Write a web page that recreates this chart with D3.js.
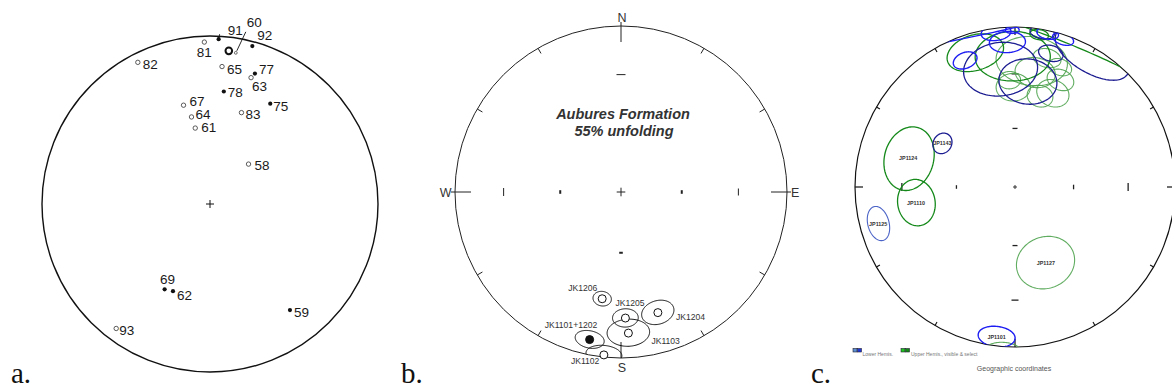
<!DOCTYPE html>
<html><head><meta charset="utf-8">
<script src="https://cdn.jsdelivr.net/npm/d3@7"></script>
<style>
html,body{margin:0;padding:0;background:#fff;}
svg{display:block;}
</style></head><body>
<svg id="fig" width="1172" height="391"></svg>
<script>
// ---------- Panel a: site-mean directions (declination, inclination; + = lower hemisphere)
const siteLabels = ["91","60","92","81","82","65","77","63","78","67","64","61","83","75","58","69","62","59","93"];
const siteDec    = [3, 7, 15, 358, 333, 5, 19, 18, 7, 345, 348, 349, 19, 31, 44, 208, 203, 143, 217];
const siteInc    = [2, -9, 3, -4, -6, -19, 19, -22, 33, -39, -46, -52, -42, 31, -63, 42, 43, 22, -8];

// ---------- Panel b: Aubures Formation, 55% unfolding (dec, inc, alpha95)
const jkLabels = ["JK1206","JK1205","JK1204","JK1103","JK1101+1202","JK1102"];
const jkDec    = [190, 178, 163, 177, 192, 186];
const jkInc    = [-35, -25, -25, -16, 10, -1.5];
const jkA95    = [4, 5.3, 6.8, 8.3, 5.5, 6.3];

// ---------- Panel c: site means with confidence cones, geographic coordinates
const jpLabels = ["JP1124","JP1143","JP1110","JP1125","JP1127","JP1101",
  "","","","","","","","","","","","","","","","","","","","","","","","","",""];
const jpDec = [285, 301, 261, 255, 158, 187,
  348, 357, 338.5, 353, 359, 12, 18, 15, 353, 7, 30, 10,
  22.5, 359, 343.5, 9, 184,
  7.6, 359, 15.4, 22, 20.6, 14, 10, 357, 23];
const jpInc = [-31.5, 46, -37.4, 12.5, -47.4, 6.2,
  -24, 10, 16, 3, 2, 2, 3, 14.5, 26, 33.6, 2, 2,
  30, -18.6, -13, -4, 3,
  -21, -37.5, -40.7, -36.8, -21, -18, -28, -33.5, -28];
const jpA95 = [14.3, 5, 10.6, 6.9, 14, 7,
  27, 7, 5, 5.5, 2.5, 4, 4, 5, 16, 13, 15, 4.5,
  35, 15.5, 11.5, 3.5, 6,
  15, 7.8, 6, 7.5, 5, 5.8, 8.8, 5, 6];
const jpGroup = ["upper","lowerDark","upper","lowerPale","upperPale","lowerBright",
  "lowerBright","lowerBright","lowerBright","lowerBright","lowerBright","lowerBright","lowerBright","lowerDark","lowerDark","lowerDark","lowerDark","lowerDark",
  "upper","upper","upper","upper","upperPale",
  "upperPale","upperPale","upperPale","upperPale","upperPale","upperPale","upperPale","upperPale","upperPale"];

const svg = d3.select("#fig");
const rad = Math.PI / 180;

// Lambert equal-area (Schmidt) projection to unit-net coordinates.
// hemi = +1 plots the lower hemisphere, -1 the upper; directions on the
// far side land outside the primitive and are clipped away.
function toUnit(v, hemi) {
  const colat = Math.acos(Math.max(-1, Math.min(1, hemi * v[2])));
  const az = Math.atan2(v[1], v[0]);
  const r = Math.SQRT2 * Math.sin(colat / 2);
  return [r * Math.sin(az), r * Math.cos(az)];
}
function dirVec(dec, inc) {
  const D = dec * rad, I = inc * rad;
  return [Math.cos(I) * Math.cos(D), Math.cos(I) * Math.sin(D), Math.sin(I)];
}
// small circle of radius a95 around a mean direction
function conePoints(dec, inc, a95, hemi, n = 120) {
  const D = dec * rad, I = inc * rad, A = a95 * rad;
  const m = dirVec(dec, inc);
  const e1 = [-Math.sin(I) * Math.cos(D), -Math.sin(I) * Math.sin(D), Math.cos(I)];
  const e2 = [-Math.sin(D), Math.cos(D), 0];
  return d3.range(n).map(k => {
    const t = 2 * Math.PI * k / n;
    const v = [0, 1, 2].map(j => Math.cos(A) * m[j] + Math.sin(A) * (Math.cos(t) * e1[j] + Math.sin(t) * e2[j]));
    return toUnit(v, hemi);
  });
}

function makeNet(cx, cy, R) {
  const x = d3.scaleLinear().domain([-1, 1]).range([cx - R, cx + R]);
  const y = d3.scaleLinear().domain([-1, 1]).range([cy + R, cy - R]);
  const proj = (dec, inc) => { const u = toUnit(dirVec(dec, Math.abs(inc)), 1); return [x(u[0]), y(u[1])]; };
  const line = d3.line().x(d => x(d[0])).y(d => y(d[1])).curve(d3.curveLinearClosed);
  return { cx, cy, R, x, y, proj, line };
}
// equal-area radius (unit net) of a given dip
const dipR = inc => Math.SQRT2 * Math.sin((90 - inc) / 2 * rad);

const font = "'Liberation Sans', Arial, sans-serif";

// ================= Panel a =================
(function () {
  const net = makeNet(210, 204, 168);
  const g = svg.append("g");
  g.append("circle").attr("cx", net.cx).attr("cy", net.cy).attr("r", net.R)
    .attr("fill", "none").attr("stroke", "#111").attr("stroke-width", 1.4);
  g.append("path").attr("d", `M${net.cx - 4},${net.cy}h8M${net.cx},${net.cy - 4}v8`)
    .attr("stroke", "#111").attr("stroke-width", 1);

  const nudge = {
    "91": [9, -9, "start"], "60": [18, -29, "start"], "92": [5, -11, "start"], "81": [0, 10, "middle"],
    "82": [5, 2, "start"], "65": [5, 3, "start"], "77": [4, -4, "start"], "63": [1, 8, "start"],
    "78": [4, 1, "start"], "67": [6, -4, "start"], "64": [4, -3, "start"], "61": [6, -1, "start"],
    "83": [4, 2, "start"], "75": [3, 2, "start"], "58": [6, 1, "start"], "69": [3, -10, "middle"],
    "62": [4, 4, "start"], "59": [4, 2, "start"], "93": [3, 2, "start"]
  };
  const sites = siteLabels.map((l, i) => ({ label: l, dec: siteDec[i], inc: siteInc[i] }));
  sites.forEach(s => {
    const [px, py] = net.proj(s.dec, s.inc);
    if (s.label === "60") {
      g.append("circle").attr("cx", px).attr("cy", py).attr("r", 3.3)
        .attr("fill", "#fff").attr("stroke", "#111").attr("stroke-width", 2);
      g.append("circle").attr("cx", px + 7).attr("cy", py + 2).attr("r", 1.4)
        .attr("fill", "#fff").attr("stroke", "#333").attr("stroke-width", 0.7);
      g.append("line").attr("x1", px + 17).attr("y1", py - 19).attr("x2", px + 8).attr("y2", py)
        .attr("stroke", "#111").attr("stroke-width", 0.9);
    } else if (s.inc >= 0) {
      g.append("circle").attr("cx", px).attr("cy", py).attr("r", 2.1).attr("fill", "#111");
      if (s.label === "91") g.append("line").attr("x1", px).attr("y1", py).attr("x2", px + 1).attr("y2", py - 5)
        .attr("stroke", "#111").attr("stroke-width", 0.9);
    } else {
      g.append("circle").attr("cx", px).attr("cy", py).attr("r", 2.2)
        .attr("fill", "#fff").attr("stroke", "#333").attr("stroke-width", 0.8);
    }
    const nd = nudge[s.label];
    g.append("text").attr("x", px + nd[0]).attr("y", py + nd[1]).attr("dy", "0.36em")
      .attr("text-anchor", nd[2]).attr("font-family", font).attr("font-size", 13.5)
      .attr("fill", "#1a1a1a").text(s.label);
  });
  svg.append("text").attr("x", 11).attr("y", 383).attr("font-family", "'Liberation Serif', 'Times New Roman', serif")
    .attr("font-size", 29).attr("fill", "#111").text("a.");
})();

// ================= Panel b =================
(function () {
  const net = makeNet(621, 192, 166);
  const g = svg.append("g");
  svg.append("clipPath").attr("id", "clipB").append("circle")
    .attr("cx", net.cx).attr("cy", net.cy).attr("r", net.R);
  g.append("circle").attr("cx", net.cx).attr("cy", net.cy).attr("r", net.R)
    .attr("fill", "none").attr("stroke", "#222").attr("stroke-width", 1);
  // 30-degree azimuth ticks on the primitive
  [30, 60, 120, 150, 210, 240, 300, 330].forEach(a => {
    const s = Math.sin(a * rad), c = Math.cos(a * rad);
    g.append("line").attr("x1", net.x(s)).attr("y1", net.y(c))
      .attr("x2", net.x(s * (1 - 6 / net.R))).attr("y2", net.y(c * (1 - 6 / net.R)))
      .attr("stroke", "#222").attr("stroke-width", 1);
  });
  // cardinal ticks
  [0, 90, 180, 270].forEach(a => {
    const s = Math.sin(a * rad), c = Math.cos(a * rad);
    const o = a === 180 ? 1 : 1 + 4 / net.R;
    g.append("line").attr("x1", net.x(s * o)).attr("y1", net.y(c * o))
      .attr("x2", net.x(s * (1 - 16 / net.R))).attr("y2", net.y(c * (1 - 16 / net.R)))
      .attr("stroke", "#222").attr("stroke-width", 1);
  });
  // dip ticks along the axes
  [[90, 30, 3.5, 1], [270, 30, 4, 1], [90, 60, 1.8, 2], [270, 60, 1.8, 2], [0, 30, 4.5, 1], [180, 60, 1.8, 2]]
    .forEach(([az, dip, h, w]) => {
      const r = dipR(dip), s = Math.sin(az * rad), c = Math.cos(az * rad);
      const px = net.x(r * s), py = net.y(r * c);
      const vert = az === 90 || az === 270;
      g.append("line").attr("x1", vert ? px : px - h).attr("x2", vert ? px : px + h)
        .attr("y1", vert ? py - h : py).attr("y2", vert ? py + h : py)
        .attr("stroke", "#222").attr("stroke-width", w);
    });
  g.append("path").attr("d", `M${net.cx - 4.3},${net.cy}h8.6M${net.cx},${net.cy - 4.3}v8.6`)
    .attr("stroke", "#222").attr("stroke-width", 1);

  const lab = (t, x, y, anchor) => g.append("text").attr("x", x).attr("y", y).attr("text-anchor", anchor)
    .attr("font-family", font).attr("font-size", 12.5).attr("fill", "#333").text(t);
  lab("N", net.cx + 1, 22, "middle");
  lab("S", net.cx + 1, 372, "middle");
  lab("W", 451.5, 197, "end");
  lab("E", 791, 197, "start");

  g.append("text").attr("x", 623).attr("y", 119).attr("text-anchor", "middle")
    .attr("font-family", font).attr("font-weight", "bold").attr("font-style", "italic")
    .attr("font-size", 14.5).attr("fill", "#333").text("Aubures Formation");
  g.append("text").attr("x", 624).attr("y", 135.5).attr("text-anchor", "middle")
    .attr("font-family", font).attr("font-weight", "bold").attr("font-style", "italic")
    .attr("font-size", 14.5).attr("fill", "#333").text("55% unfolding");

  const labNudge = { "JK1206": [-34, -8], "JK1205": [-10, -12], "JK1204": [18, 7], "JK1103": [23, 11],
    "JK1101+1202": [-45, -12], "JK1102": [-33, 9] };
  const sites = jkLabels.map((l, i) => ({ label: l, dec: jkDec[i], inc: jkInc[i], a95: jkA95[i] }));
  const cones = g.append("g").attr("clip-path", "url(#clipB)");
  sites.forEach(s => {
    cones.append("path").attr("d", net.line(conePoints(s.dec, s.inc, s.a95, s.inc >= 0 ? 1 : -1)))
      .attr("fill", "none").attr("stroke", "#111").attr("stroke-width", 1);
  });
  sites.forEach(s => {
    const [px, py] = net.proj(s.dec, s.inc);
    g.append("circle").attr("cx", px).attr("cy", py).attr("r", 4)
      .attr("fill", s.inc >= 0 ? "#111" : "#fff").attr("stroke", "#111").attr("stroke-width", 1);
    const nd = labNudge[s.label];
    g.append("text").attr("x", px + nd[0]).attr("y", py + nd[1])
      .attr("font-family", font).attr("font-size", 8.6).attr("fill", "#333").text(s.label);
  });
  svg.append("text").attr("x", 401).attr("y", 383).attr("font-family", "'Liberation Serif', 'Times New Roman', serif")
    .attr("font-size", 29).attr("fill", "#111").text("b.");
})();

// ================= Panel c =================
(function () {
  const net = makeNet(1015, 187, 160);
  const g = svg.append("g");
  svg.append("clipPath").attr("id", "clipC").append("circle")
    .attr("cx", net.cx).attr("cy", net.cy).attr("r", net.R);
  g.append("circle").attr("cx", net.cx).attr("cy", net.cy).attr("r", net.R)
    .attr("fill", "none").attr("stroke", "#111").attr("stroke-width", 1.2);
  [30, 60, 120, 150, 210, 240, 300, 330].forEach(a => {
    const s = Math.sin(a * rad), c = Math.cos(a * rad);
    g.append("line").attr("x1", net.x(s)).attr("y1", net.y(c))
      .attr("x2", net.x(s * (1 - 4 / net.R))).attr("y2", net.y(c * (1 - 4 / net.R)))
      .attr("stroke", "#111").attr("stroke-width", 1.1);
  });
  [0, 90, 180, 270].forEach(a => {
    const s = Math.sin(a * rad), c = Math.cos(a * rad);
    g.append("line").attr("x1", net.x(s)).attr("y1", net.y(c))
      .attr("x2", net.x(s * (1 - 8 / net.R))).attr("y2", net.y(c * (1 - 8 / net.R)))
      .attr("stroke", "#111").attr("stroke-width", 1.2);
  });
  [[90, 30, 4], [270, 30, 4], [90, 60, 2.3], [270, 60, 1.8], [0, 30, 3.5], [0, 60, 2.5], [180, 60, 2.5], [180, 30, 3.5]]
    .forEach(([az, dip, h]) => {
      const r = dipR(dip), s = Math.sin(az * rad), c = Math.cos(az * rad);
      const px = net.x(r * s), py = net.y(r * c);
      const vert = az === 90 || az === 270;
      g.append("line").attr("x1", vert ? px : px - h).attr("x2", vert ? px : px + h)
        .attr("y1", vert ? py - h : py).attr("y2", vert ? py + h : py)
        .attr("stroke", "#222").attr("stroke-width", 1.3);
    });
  g.append("path").attr("d", `M${net.cx - 2},${net.cy}h4M${net.cx},${net.cy - 2}v4`)
    .attr("stroke", "#222").attr("stroke-width", 0.9);

  const order = ["upperPale", "upper", "lowerPale", "lowerDark", "lowerBright"];
  const colour = d3.scaleOrdinal().domain(order).range(["#4fa34f", "#14891a", "#4b63c6", "#1d1d92", "#1e1ef2"]);
  const width = d3.scaleOrdinal().domain(order).range([1.1, 1.3, 1.1, 1.3, 1.4]);
  const hemi = d3.scaleOrdinal().domain(order).range([-1, -1, 1, 1, 1]);

  const sites = jpLabels.map((l, i) => ({ label: l, dec: jpDec[i], inc: jpInc[i], a95: jpA95[i], group: jpGroup[i] }))
    .sort((a, b) => order.indexOf(a.group) - order.indexOf(b.group));
  const cones = g.append("g").attr("clip-path", "url(#clipC)");
  sites.forEach(s => {
    cones.append("path").attr("d", net.line(conePoints(s.dec, s.inc, s.a95, hemi(s.group))))
      .attr("fill", "none").attr("stroke", colour(s.group)).attr("stroke-width", width(s.group))
      .attr("stroke-opacity", s.group === "upperPale" ? 0.9 : 1);
  });
  sites.filter(s => s.label).forEach(s => {
    const [px, py] = net.proj(s.dec, s.inc);
    g.append("text").attr("x", px).attr("y", py + 2).attr("text-anchor", "middle")
      .attr("font-family", font).attr("font-weight", "bold").attr("font-size", 5.4)
      .attr("fill", "#333").text(s.label);
  });

  // legend
  const lg = g.append("g").attr("font-family", font).attr("font-size", 5).attr("fill", "#777");
  const sw = (x, fill) => lg.append("rect").attr("x", x).attr("y", 348.5).attr("width", 4).attr("height", 3.5)
    .attr("fill", fill).attr("stroke", "#223").attr("stroke-width", 0.6);
  sw(853, "#5b8fd0"); sw(857.5, "#1e35d8");
  lg.append("text").attr("x", 862.5).attr("y", 356).text("Lower Hemis.");
  sw(901, "#22c422"); sw(905.5, "#138a13");
  lg.append("text").attr("x", 911).attr("y", 356).text("Upper Hemis., visible & select");
  g.append("text").attr("x", 1014).attr("y", 371).attr("text-anchor", "middle")
    .attr("font-family", font).attr("font-size", 7).attr("fill", "#555").text("Geographic coordinates");

  svg.append("text").attr("x", 811).attr("y", 383).attr("font-family", "'Liberation Serif', 'Times New Roman', serif")
    .attr("font-size", 29).attr("fill", "#111").text("c.");
})();
</script>
</body></html>
